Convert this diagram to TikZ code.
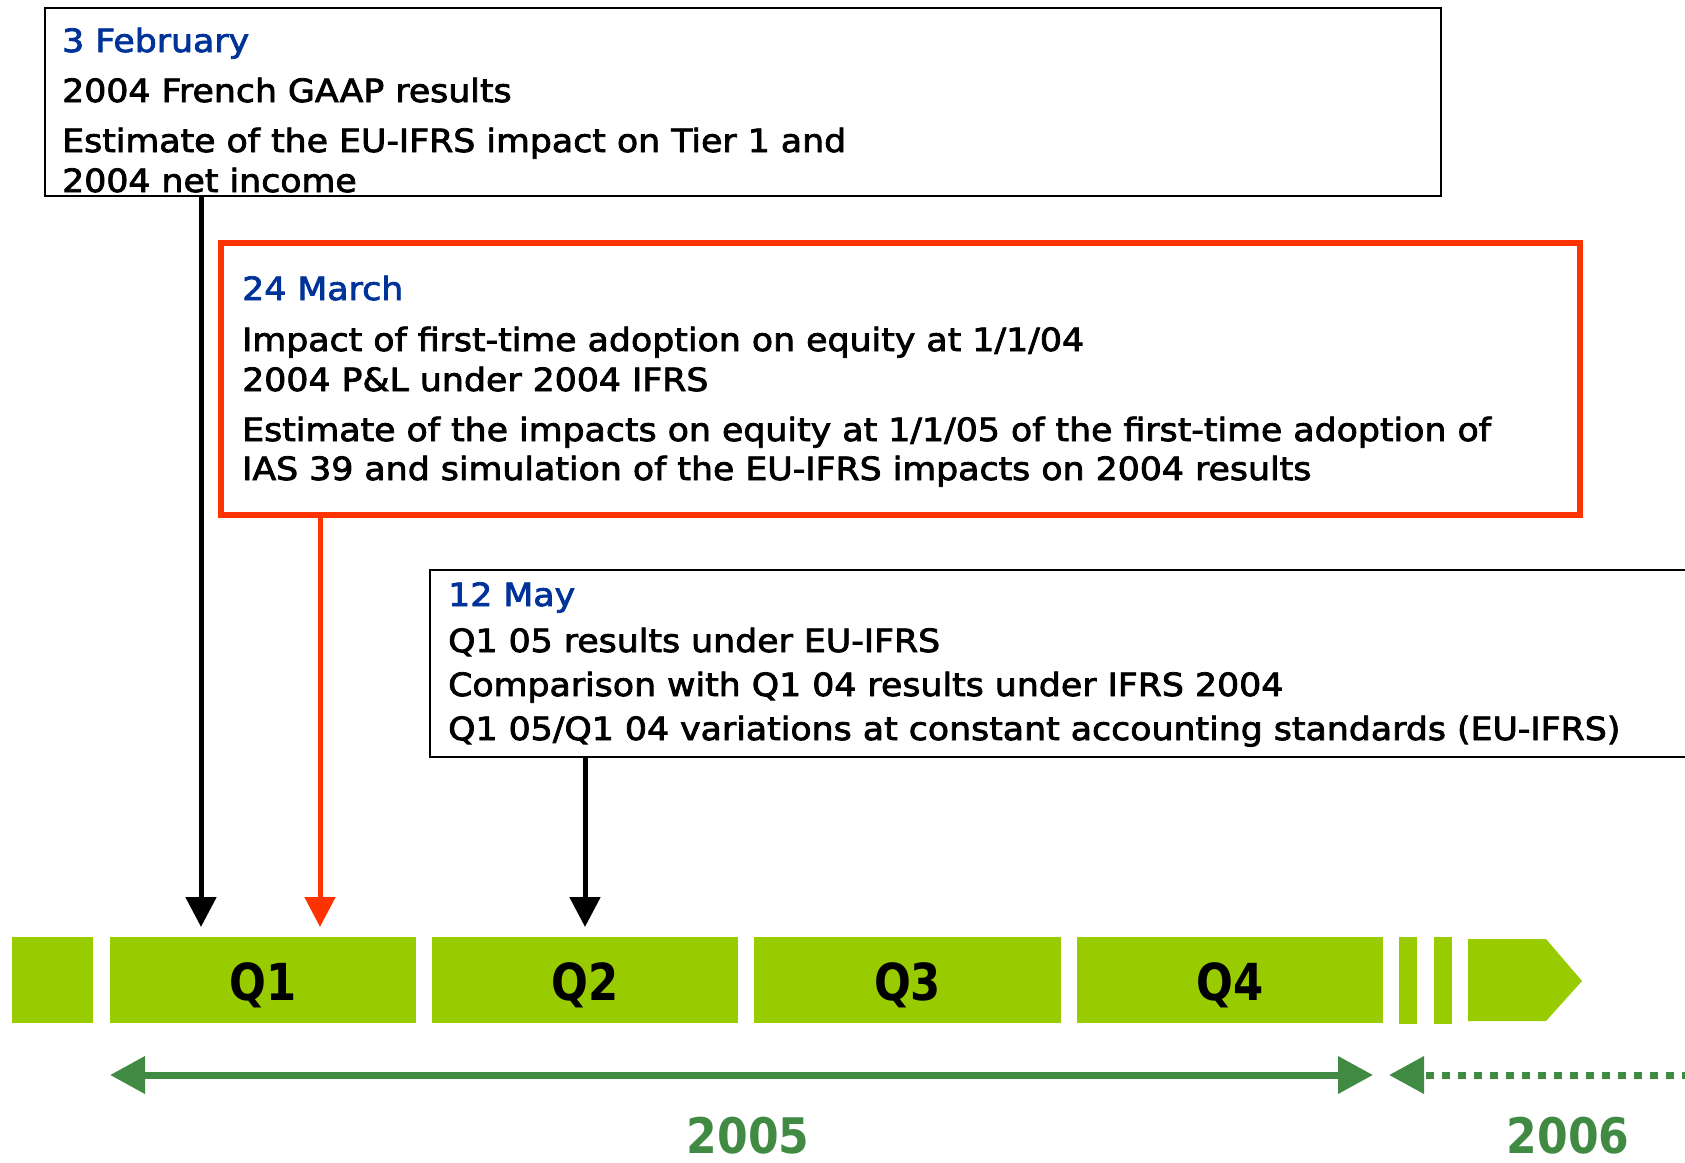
\documentclass[tikz,border=0pt]{standalone}
\usepackage{fontspec}
\setmainfont{DejaVu Sans}[FakeStretch=1.085, FakeBold=2.5]
\newfontfamily\qfont{DejaVu Sans}[FakeStretch=0.85]
\newfontfamily\yrfont{DejaVu Sans}[FakeStretch=0.9]
\usetikzlibrary{arrows.meta}
\definecolor{myblue}{RGB}{0,51,153}
\definecolor{myred}{RGB}{255,51,0}
\definecolor{barg}{RGB}{153,204,0}
\definecolor{darkg}{RGB}{64,138,68}
\tikzset{
  box/.style={draw=black, line width=2pt, anchor=north west, inner sep=0pt, outer sep=0pt},
  redbox/.style={draw=myred, line width=6pt, anchor=north west, inner sep=0pt, outer sep=0pt},
  txt/.style={anchor=base west, inner sep=0pt, font=\fontsize{32}{38}\selectfont},
  ttl/.style={txt, text=myblue},
  bar/.style={fill=barg, anchor=north west, inner sep=0pt, outer sep=0pt},
  qlab/.style={anchor=base, inner sep=0pt, font=\qfont\bfseries\fontsize{51}{60}\selectfont},
  yrlab/.style={anchor=base, inner sep=0pt, text=darkg, font=\yrfont\bfseries\fontsize{49}{58}\selectfont},
  pin/.style={line width=5pt, -{Triangle[length=30pt,width=30pt]}},
  yline/.style={draw=darkg, line width=7pt},
}
\begin{document}
\begin{tikzpicture}[x=1pt,y=-1pt]
\useasboundingbox (0,0) rectangle (1685,1162);
\clip (0,0) rectangle (1685,1162);
% boxes
\node[box, minimum width=1396pt, minimum height=188pt] (b1) at (45,8) {};
\node[redbox, minimum width=1359pt, minimum height=272pt] (b2) at (221,243) {};
\node[box, minimum width=1300pt, minimum height=187pt] (b3) at (430,570) {};
% box 1 text
\node[ttl] (t11) at (62,52) {3 February};
\node[txt] (t12) at (62,102) {2004 French GAAP results};
\node[txt] (t13) at (62,152) {Estimate of the EU-IFRS impact on Tier 1 and};
\node[txt] (t14) at (62,192) {2004 net income};
% box 2 text
\node[ttl] (t21) at (242,300) {24 March};
\node[txt] (t22) at (242,351) {Impact of first-time adoption on equity at 1/1/04};
\node[txt] (t23) at (242,391) {2004 P\&L under 2004 IFRS};
\node[txt] (t24) at (242,441) {Estimate of the impacts on equity at 1/1/05 of the first-time adoption of};
\node[txt] (t25) at (242,480) {IAS 39 and simulation of the EU-IFRS impacts on 2004 results};
% box 3 text
\node[ttl] (t31) at (448,606) {12 May};
\node[txt] (t32) at (448,652) {Q1 05 results under EU-IFRS};
\node[txt] (t33) at (448,696) {Comparison with Q1 04 results under IFRS 2004};
\node[txt] (t34) at (448,740) {Q1 05/Q1 04 variations at constant accounting standards (EU-IFRS)};
% bars
\node[bar, minimum width=81pt, minimum height=86pt] (bar0) at (12,937) {};
\node[bar, minimum width=306pt, minimum height=86pt] (q1) at (110,937) {};
\node[bar, minimum width=306pt, minimum height=86pt] (q2) at (432,937) {};
\node[bar, minimum width=307pt, minimum height=86pt] (q3) at (754,937) {};
\node[bar, minimum width=306pt, minimum height=86pt] (q4) at (1077,937) {};
\node[bar, minimum width=18pt, minimum height=87pt] (thin1) at (1399,937) {};
\node[bar, minimum width=18pt, minimum height=87pt] (thin2) at (1434,937) {};
\fill[barg] (1468,939) -- (1546,939) -- (1582,981) -- (1546,1021) -- (1468,1021) -- cycle;
\node[qlab] (q1t) at (q1.center |- 0,1000) {Q1};
\node[qlab] (q2t) at (q2.center |- 0,1000) {Q2};
\node[qlab] (q3t) at (q3.center |- 0,1000) {Q3};
\node[qlab] (q4t) at (q4.center |- 0,1000) {Q4};
% pins
\coordinate (p1) at (201,927);
\coordinate (p2) at (320,927);
\coordinate (p3) at (585,927);
\draw[pin, black] (b1.south -| p1) -- (p1);
\draw[pin, myred] (b2.south -| p2) -- (p2);
\draw[pin, black] (b3.south -| p3) -- (p3);
% year arrows
\coordinate (ya) at (110,1075);
\coordinate (yb) at (1373,1075);
\coordinate (yc) at (1389,1075);
\coordinate (yd) at (1690,1075);
\draw[yline, {Triangle[length=35pt,width=36pt]}-{Triangle[length=35pt,width=36pt]}] (ya) -- (yb);
\draw[yline, dash pattern=on 8pt off 8pt, dash phase=12pt, {Triangle[length=35pt,width=36pt]}-] (yc) -- (yd);
\node[yrlab] (y05) at (748,1153) {2005};
\node[yrlab] (y06) at (1568,1153) {2006};
\end{tikzpicture}
\end{document}
